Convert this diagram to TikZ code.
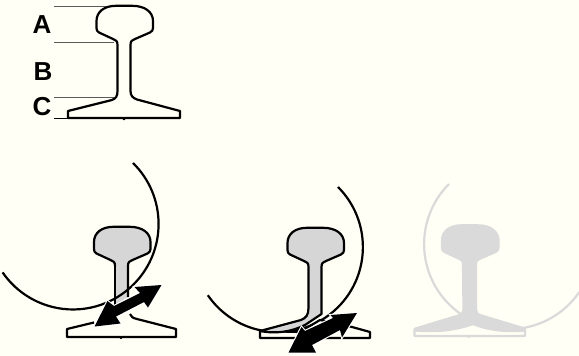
\documentclass[tikz,border=0pt]{standalone}
\usepackage{fontspec}
\setmainfont{Liberation Sans}
\definecolor{bgc}{RGB}{255,255,245}
\definecolor{railgray}{RGB}{214,214,214}
\definecolor{ghost}{RGB}{218,218,218}
\definecolor{leader}{RGB}{90,90,90}
\newcommand{\railhead}{(117.5,45) .. controls (117.5,41) and (116,40) .. (113,39) -- (99,32.5) .. controls (97,31.5) and (96.5,30) .. (96.5,28) -- (96.5,21) .. controls (96.5,12) and (104,5.8) .. (116,5.8) -- (132,5.8) .. controls (145,5.8) and (153,12) .. (153,21) -- (153,28) .. controls (153,30) and (152,31.5) .. (150,32.5) -- (135,39) .. controls (132,40) and (130.5,41) .. (130.5,45)}
\tikzset{
  railline/.style={draw=black,line width=2.2pt,line join=round},
  wheel/.style={draw=black,line width=2.2pt},
  ghostline/.style={draw=ghost,line width=2.2pt,line join=round},
  leaderline/.style={draw=leader,line width=0.8pt},
  flowedge/.style={draw=white,line width=2.2pt,line join=miter},
  flow/.style={fill=black},
  letter/.style={font=\fontsize{26}{26}\selectfont\bfseries,inner sep=0pt}
}
\newcommand{\arrowone}{(161.5,285) -- (134.5,287) -- (140,293) -- (114,306) -- (107.5,301) -- (94.5,326.5) -- (120.5,323.5) -- (116,316.5) -- (144,302) -- (148,307.5) -- cycle}
\newcommand{\arrowtwo}{(357,313) -- (330.5,315) -- (333,318) -- (305,331) -- (301.5,327) -- (288.5,352.5) -- (316,352.5) -- (312,345) -- (340,330) -- (342,337.5) -- cycle}
\begin{document}
\begin{tikzpicture}[x=1pt,y=-1pt]
\useasboundingbox (0,0) rectangle (579,356);
\fill[bgc] (0,0) rectangle (579,356);
% labels
\node[letter] (A) at (42,24.5) {A};
\node[letter] (B) at (43,71.5) {B};
\node[letter] (C) at (42,107) {C};
\coordinate (a1) at (54,6.5); \coordinate (a2) at (115,6.5);
\coordinate (b1) at (54,42); \coordinate (b2) at (114,42);
\coordinate (c1) at (54,97); \coordinate (c2) at (114,97);
\coordinate (d1) at (54,118.2); \coordinate (d2) at (68,118.2);
\draw[leaderline] (a1) -- (a2);
\draw[leaderline] (b1) -- (b2);
\draw[leaderline] (c1) -- (c2);
\draw[black,line width=0.9pt] (d1) -- (d2);
% rail 1
\draw[railline] \railhead -- (130.5,91) .. controls (130.5,96) and (133,98) .. (137,99.5) -- (180,111) -- (180,118) -- (124.5,118) -- (124,119.2) -- (123.5,118) -- (68,118) -- (68,111) -- (112,100) .. controls (116,98.5) and (117.5,96) .. (117.5,91) -- cycle;
% rail 2
\begin{scope}[shift={(-2.5,221)}]
\path[fill=railgray] \railhead -- (130.5,76) -- (117.5,84) -- cycle;
\draw[railline] \railhead -- (130.5,76);
\draw[railline] (117.5,45) -- (117.5,84);
\end{scope}
\draw[railline] (94,322.5) -- (67,329) -- (67,337) -- (120.5,337) -- (121,338) -- (121.5,337) -- (176,337) -- (176,329) -- (137,319) .. controls (133,318) and (131,317) .. (130,314);
\draw[wheel] (133,163) arc[start angle=-45.5,end angle=145.5,radius=85.5];
\draw[flowedge] \arrowone;
\fill[flow] \arrowone;
% rail 3
\draw[wheel] (338,187) arc[start angle=-45,end angle=145.5,radius=85];
\draw[railline,fill=bgc] (260,331) -- (260,338) -- (370,338) -- (370,332) -- (352,327) -- (320,320) -- (300,332) -- cycle;
\begin{scope}[shift={(191,222)}]
\draw[railline,fill=railgray] \railhead -- (130.5,92) -- (114,103) .. controls (100,110) and (85,112) .. (69,109) -- (110,98) .. controls (115,96) and (117.5,93) .. (117.5,86) -- cycle;
\end{scope}
\draw[flowedge] \arrowtwo;
\fill[flow] \arrowtwo;
% rail 4
\draw[ghostline] (449,184) arc[start angle=225,end angle=34.4,radius=85];
\draw[ghostline,fill=bgc] (414.5,329) -- (414.5,336) -- (468.5,336) -- (469,337) -- (469.5,336) -- (525,336) -- (525,329) -- (473,324) -- cycle;
\begin{scope}[shift={(345.5,219.5)}]
\draw[ghostline,fill=ghost] \railhead -- (130.5,90) .. controls (130.5,93) and (132,95) .. (136,96) -- (179,109) -- (179,111) .. controls (160,113) and (140,110) .. (127.5,104.5) .. controls (112,110) and (95,113) .. (70,111) -- (70,109) -- (113,96) .. controls (116.5,95) and (118,93) .. (118,90) -- cycle;
\end{scope}
\end{tikzpicture}
\end{document}
